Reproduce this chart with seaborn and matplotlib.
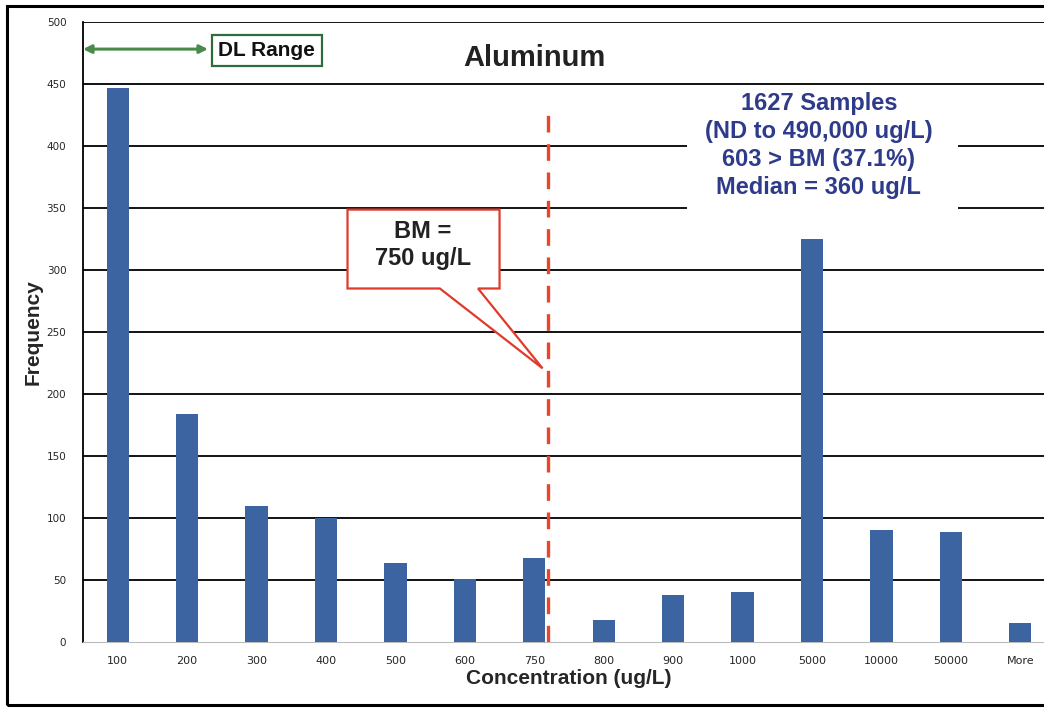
import numpy as np
import pandas as pd
import matplotlib
matplotlib.use("Agg")
import matplotlib.pyplot as plt
from matplotlib.patches import Polygon, Rectangle
import seaborn as sns

# histogram bins (upper edges) and counts
bins = ["100", "200", "300", "400", "500", "600", "750", "800", "900",
        "1000", "5000", "10000", "50000", "More"]
counts = [447, 184, 110, 100, 64, 51, 68, 18, 38, 40, 325, 90, 89, 15]
yticks = list(range(0, 501, 50))

bm_pos = 6.2          # BM line sits just right of the 750 bin
bm_top = 432
info_lines = ["1627 Samples", "(ND to 490,000 ug/L)", "603 > BM (37.1%)", "Median = 360 ug/L"]

df = pd.DataFrame({"bin": bins, "count": counts})

sns.set_style("white")
plt.rcParams["font.family"] = ["Liberation Sans", "DejaVu Sans"]

fig = plt.figure(figsize=(10.44, 7.08), dpi=100)
ax = fig.add_axes([0.0795, 0.0932, 0.931, 0.876])

sns.barplot(data=df, x="bin", y="count", color="#3B64A0", width=0.32,
            saturation=1, linewidth=0, ax=ax, zorder=3)

ax.set_xlim(-0.5, len(bins) - 0.5)
ax.set_ylim(0, 500)
ax.set_yticks(yticks)
ax.set_yticklabels([str(t) for t in yticks], fontsize=7.5,
                   family=["Liberation Sans Narrow", "DejaVu Sans"])
ax.set_xticks(range(len(bins)))
ax.set_xticklabels(bins, fontsize=8, family=["Liberation Sans Narrow", "DejaVu Sans"])
ax.tick_params(axis="both", length=0)
ax.tick_params(axis="x", pad=10)
ax.tick_params(axis="y", pad=12)

for t in yticks[1:]:
    ax.axhline(t, color="black", lw=1.3, zorder=1)

for s in ["top", "right"]:
    ax.spines[s].set_visible(False)
ax.spines["left"].set_color("black")
ax.spines["left"].set_linewidth(1.3)
ax.spines["bottom"].set_color("#bbbbbb")
ax.spines["bottom"].set_linewidth(0.8)

ax.set_xlabel("Concentration (ug/L)", fontsize=15, fontweight="bold", labelpad=2)
ax.set_ylabel("Frequency", fontsize=15, fontweight="bold", labelpad=3)

# title
ax.text(6.0, 471, "Aluminum", fontsize=21, fontweight="bold", ha="center", va="center",
        color="#222222", zorder=5)

# BM dashed line
ax.plot([bm_pos, bm_pos], [0, bm_top], color="#E8452C", lw=2.4,
        dashes=(5, 3.5), zorder=4)

# BM callout
callout = Polygon([(3.31, 348.6), (5.50, 348.6), (5.50, 285), (5.19, 285),
                   (6.12, 220.6), (4.64, 285), (3.31, 285)], closed=True,
                  facecolor="white", edgecolor="#E03A2A", lw=1.6, zorder=5)
ax.add_patch(callout)
ax.text(4.4, 331, "BM =", fontsize=17, fontweight="bold", ha="center", va="center",
        color="#222222", zorder=6)
ax.text(4.4, 309, "750 ug/L", fontsize=17, fontweight="bold", ha="center", va="center",
        color="#222222", zorder=6)

# summary text block (white backing hides the gridlines behind it)
ax.add_patch(Rectangle((8.2, 346), 3.9, 99, facecolor="white", edgecolor="none", zorder=2))
for i, line in enumerate(info_lines):
    ax.text(10.1, 434 - i * 22.5, line, fontsize=17, fontweight="bold",
            ha="center", va="center", color="#2E3A8A", zorder=5)

# DL range arrow + label
ax.annotate("", xy=(-0.5, 478), xytext=(1.30, 478),
            arrowprops=dict(arrowstyle="<|-|>", color="#4A8A4A", lw=2.2,
                            mutation_scale=12, shrinkA=0, shrinkB=0), zorder=5)
ax.text(1.45, 477, "DL Range", fontsize=15, fontweight="bold", ha="left", va="center",
        color="#111111", zorder=6,
        bbox=dict(boxstyle="square,pad=0.3", facecolor="white",
                  edgecolor="#2F6B3B", lw=1.6))

# scanned page border
fig.patches.append(Rectangle((7 / 1044, 3 / 708), 1.1, 699 / 708, transform=fig.transFigure,
                             fill=False, edgecolor="black", lw=2.2))

fig.savefig("out.png", dpi=100)
